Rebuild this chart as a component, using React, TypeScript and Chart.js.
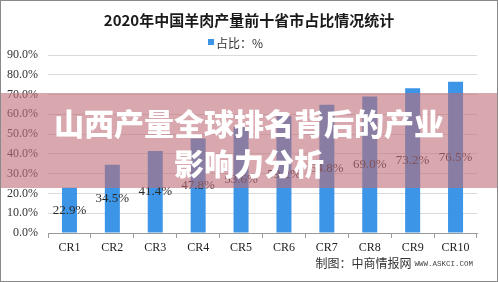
import React, { useEffect, useRef } from "react";
import { Chart, registerables } from "chart.js";

Chart.register(...registerables);

// Top-10 provinces, cumulative mutton output share (CR1..CR10), percent
const categories = ["CR1", "CR2", "CR3", "CR4", "CR5", "CR6", "CR7", "CR8", "CR9", "CR10"];
const shareValues = [22.9, 34.5, 41.4, 47.8, 53.6, 59.2, 64.8, 69.0, 73.2, 76.5];
const yMax = 90;
const yStep = 10;

const chartTitle = "2020年中国羊肉产量前十省市占比情况统计";
const seriesLabel = "占比：%";
const footerSource = "制图：中商情报网";
const footerSite = "WWW.ASKCI.COM";
const bannerLines = ["山西产量全球排名背后的产业", "影响力分析"];

const BAR_COLOR = "#3c95e6";
const SERIF = '"Liberation Serif", serif';
const MONO = '"Liberation Mono", monospace';
const CJK = '"Noto Sans CJK SC", sans-serif';

const decorPlugin = {
  id: "decor",
  afterDraw(chart: any) {
    const { ctx } = chart;
    ctx.save();

    // title
    ctx.fillStyle = "#1a1a1a";
    ctx.font = `bold 15px ${CJK}`;
    ctx.textAlign = "center";
    ctx.textBaseline = "middle";
    ctx.fillText(chartTitle, 249, 20);

    // legend
    ctx.fillStyle = BAR_COLOR;
    ctx.fillRect(208, 39, 6, 6);
    ctx.fillStyle = "#333";
    ctx.font = `12px ${CJK}`;
    ctx.textAlign = "left";
    ctx.fillText(seriesLabel, 216, 43);

    // value labels, centred inside each bar
    const meta = chart.getDatasetMeta(0);
    ctx.font = `13px ${SERIF}`;
    ctx.fillStyle = "#2a2a2a";
    ctx.textAlign = "center";
    meta.data.forEach((bar: any, i: number) => {
      const v = shareValues[i];
      ctx.fillText(v.toFixed(1) + "%", bar.x, (bar.y + bar.base) / 2);
    });

    // source footer
    ctx.textAlign = "right";
    ctx.font = `7.5px ${MONO}`;
    ctx.fillStyle = "#444";
    ctx.fillText(footerSite, 473, 264);
    const siteW = ctx.measureText(footerSite).width;
    ctx.font = `12px ${CJK}`;
    ctx.fillStyle = "#333";
    ctx.fillText(footerSource, 473 - siteW - 3, 263);

    ctx.restore();
  },
};

export default function App() {
  const canvasRef = useRef<HTMLCanvasElement | null>(null);

  useEffect(() => {
    if (!canvasRef.current) return;
    const chart = new Chart(canvasRef.current, {
      type: "bar",
      data: {
        labels: categories,
        datasets: [
          {
            label: seriesLabel,
            data: shareValues,
            backgroundColor: BAR_COLOR,
            barPercentage: 0.35,
            categoryPercentage: 1,
          },
        ],
      },
      options: {
        responsive: false,
        animation: false,
        layout: { padding: { top: 55, right: 21, left: 0, bottom: 0 } },
        plugins: {
          legend: { display: false },
          title: { display: false },
          tooltip: { enabled: false },
        },
        scales: {
          x: {
            offset: true,
            grid: {
              offset: true,
              drawOnChartArea: false,
              drawTicks: true,
              tickLength: 5,
              color: "#9a9a9a",
            },
            border: { display: true, color: "#9a9a9a" },
            ticks: {
              font: { family: SERIF, size: 12 },
              color: "#222",
              padding: 3,
            },
            afterFit: (s: any) => {
              s.height = 49;
            },
          },
          y: {
            min: 0,
            max: yMax,
            ticks: {
              stepSize: yStep,
              callback: (v: any) => Number(v).toFixed(1) + "%",
              font: { family: SERIF, size: 12 },
              color: "#333",
              padding: 10,
            },
            grid: { color: "#dadada", drawTicks: false },
            border: { display: false },
            afterFit: (s: any) => {
              s.width = 48;
            },
          },
        },
      },
      plugins: [decorPlugin],
    });
    return () => chart.destroy();
  }, []);

  return (
    <div
      style={{
        position: "fixed",
        left: 0,
        top: 0,
        width: 498,
        height: 282,
        background: "#fff",
        overflow: "hidden",
      }}
    >
      <canvas ref={canvasRef} width={498} height={282} style={{ display: "block" }} />
      <div
        style={{
          position: "absolute",
          left: 0,
          top: 93,
          width: 498,
          height: 95,
          background: "rgba(190,110,120,0.6)",
          color: "#fff",
          fontFamily: CJK,
          fontWeight: 900,
          fontSize: 30,
          lineHeight: "40px",
          textAlign: "center",
          paddingTop: 9,
          boxSizing: "border-box",
          letterSpacing: 0,
        }}
      >
        <div>{bannerLines[0]}</div>
        <div>{bannerLines[1]}</div>
      </div>
      <div
        style={{
          position: "absolute",
          left: 0,
          top: 0,
          width: 498,
          height: 282,
          border: "1px solid #8a8a8a",
          boxSizing: "border-box",
          pointerEvents: "none",
        }}
      />
    </div>
  );
}
